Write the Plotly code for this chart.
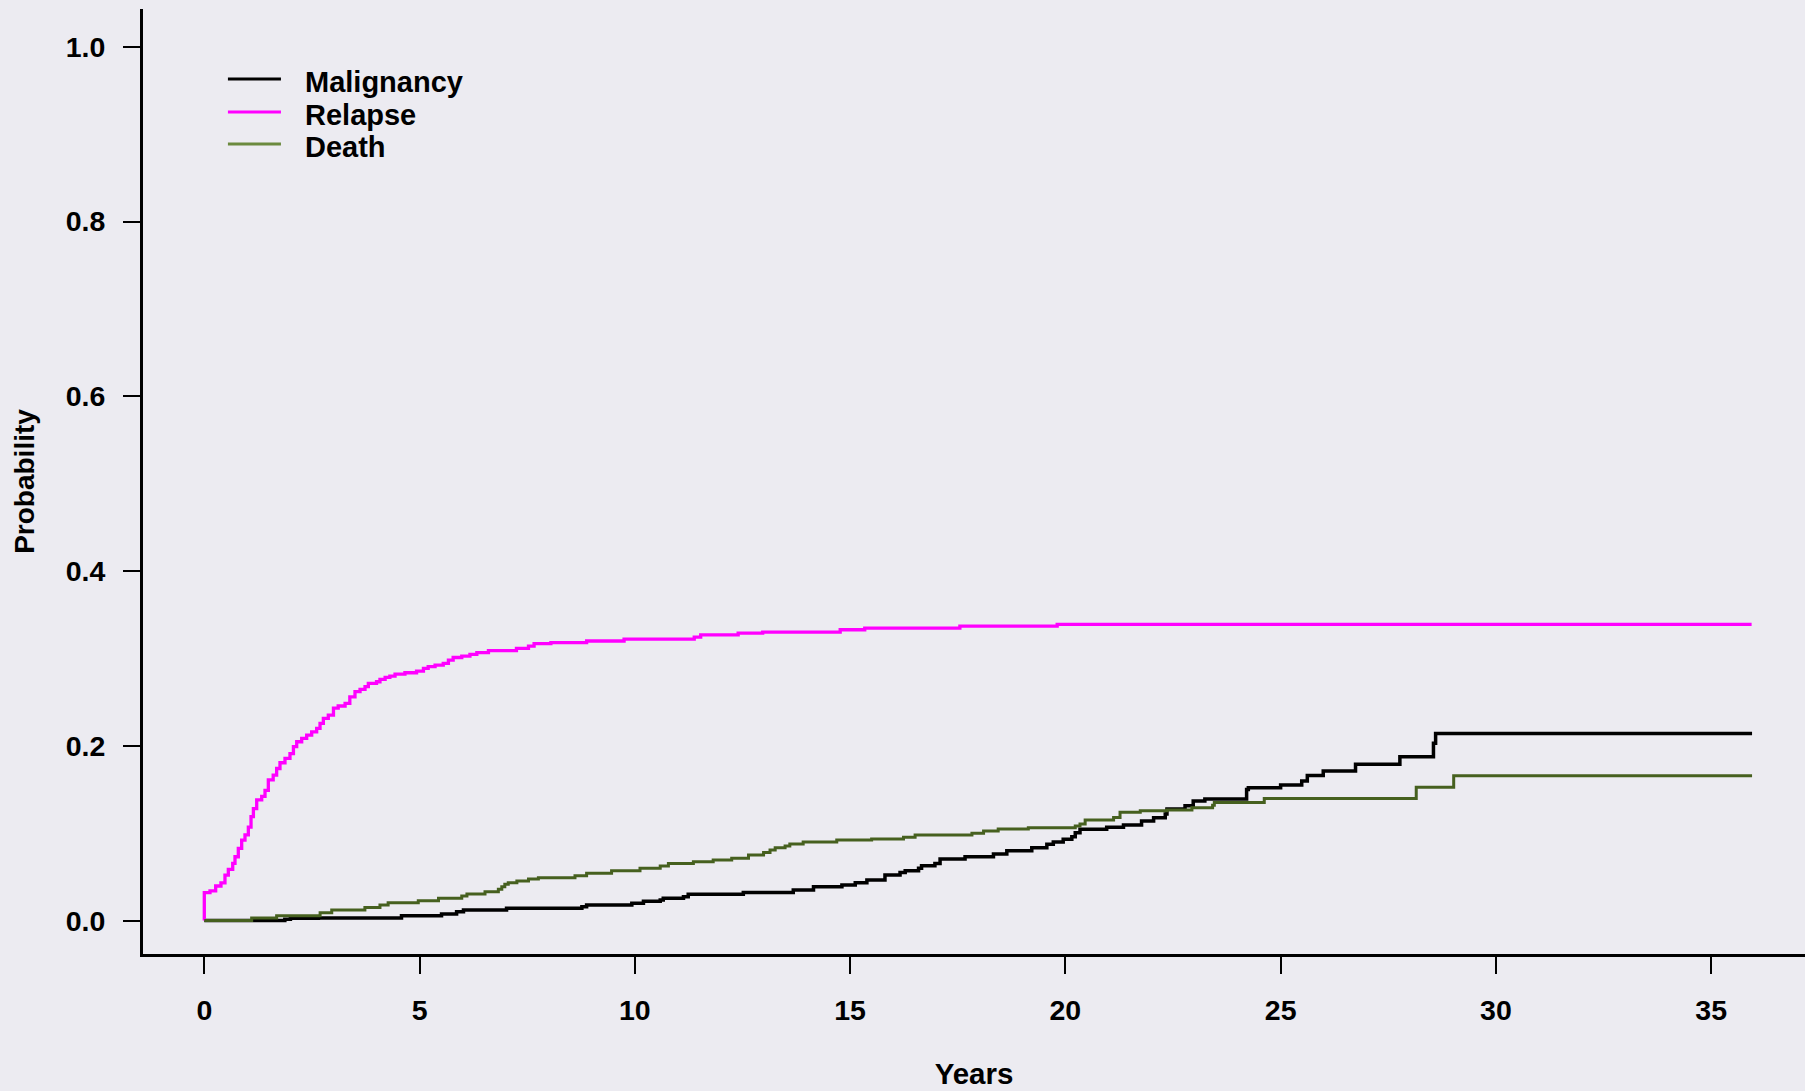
import plotly.graph_objects as go

# ---- data ----
relapse_t = [0, 0, 0.132, 0.264, 0.387, 0.48, 0.558, 0.66, 0.713, 0.79, 0.868, 0.945, 1.023, 1.085,
             1.14, 1.217, 1.333, 1.41, 1.487, 1.60, 1.68, 1.758, 1.874, 1.99, 2.07, 2.146, 2.262,
             2.378, 2.494, 2.61, 2.688, 2.765, 2.88, 3.0, 3.11, 3.27, 3.38, 3.50, 3.617, 3.733, 3.81,
             4.0, 4.08, 4.20, 4.31, 4.43, 4.66, 4.93, 5.09, 5.2, 5.36, 5.55, 5.67, 5.78, 5.98, 6.17,
             6.33, 6.6, 7.25, 7.53, 7.66, 8.05, 8.88, 9.75, 11.38, 11.53, 12.4, 12.97, 14.77, 15.34,
             17.55, 19.81, 35.94]
relapse_p = [0, 0.032, 0.034, 0.0395, 0.043, 0.052, 0.0586, 0.0654, 0.073, 0.0826, 0.092, 0.098,
             0.107, 0.119, 0.128, 0.138, 0.142, 0.149, 0.161, 0.1665, 0.174, 0.1806, 0.1856, 0.191,
             0.199, 0.2046, 0.2085, 0.2123, 0.216, 0.22, 0.2257, 0.2314, 0.235, 0.243, 0.2455,
             0.2486, 0.256, 0.262, 0.2646, 0.2676, 0.2715, 0.2733, 0.276, 0.2783, 0.2798, 0.282,
             0.2836, 0.2855, 0.2886, 0.2905, 0.2924, 0.2943, 0.298, 0.301, 0.3027, 0.3046, 0.3065,
             0.3088, 0.3115, 0.314, 0.3168, 0.318, 0.3199, 0.322, 0.3244, 0.327, 0.329, 0.330,
             0.3328, 0.3347, 0.337, 0.339, 0.339]

malig_t = [0, 1.87, 2.0, 2.65, 4.58, 5.51, 5.86, 6.02, 7.02, 8.77, 8.88, 9.93, 10.2, 10.59, 10.66,
           11.13, 11.24, 12.52, 13.68, 14.15, 14.81, 15.12, 15.39, 15.81, 16.16, 16.28, 16.59,
           16.66, 16.97, 17.09, 17.67, 18.33, 18.64, 19.22, 19.57, 19.72, 19.95, 20.15, 20.23,
           20.34, 20.96, 21.35, 21.77, 22.05, 22.32, 22.36, 22.78, 22.97, 23.24, 24.21, 24.25,
           25.0, 25.49, 25.62, 25.99, 26.74, 27.77, 28.55, 28.6, 35.95]
malig_p = [0, 0.0014, 0.0025, 0.003, 0.0055, 0.0074, 0.010, 0.012, 0.014, 0.0158, 0.0177, 0.0197,
           0.022, 0.0235, 0.0254, 0.0272, 0.030, 0.0322, 0.0349, 0.0387, 0.0406, 0.0433, 0.0463,
           0.052, 0.0551, 0.057, 0.0597, 0.0627, 0.0654, 0.0704, 0.073, 0.0761, 0.0799, 0.0833,
           0.0872, 0.090, 0.0929, 0.0959, 0.1005, 0.1044, 0.1067, 0.1093, 0.1139, 0.1177, 0.1219,
           0.1276, 0.1314, 0.1368, 0.139, 0.150, 0.152, 0.155, 0.1596, 0.166, 0.171, 0.179,
           0.1875, 0.2028, 0.214, 0.214]

death_t = [0, 1.10, 1.68, 2.69, 2.96, 3.73, 4.08, 4.27, 4.97, 5.44, 5.98, 6.1, 6.52, 6.83, 6.91,
           6.98, 7.06, 7.26, 7.53, 7.76, 8.61, 8.88, 9.46, 10.12, 10.59, 10.78, 11.36, 11.82,
           12.25, 12.64, 12.99, 13.14, 13.26, 13.49, 13.6, 13.91, 14.69, 15.5, 16.24, 16.51,
           17.83, 18.1, 18.44, 19.14, 20.23, 20.34, 20.46, 21.12, 21.27, 21.74, 22.36, 22.94,
           23.42, 23.46, 24.62, 28.15, 29.02, 35.95]
death_p = [0, 0.003, 0.0055, 0.009, 0.012, 0.015, 0.0177, 0.0204, 0.0227, 0.0254, 0.028, 0.0303,
           0.033, 0.0357, 0.0387, 0.0414, 0.0433, 0.0452, 0.0475, 0.049, 0.0513, 0.054, 0.057,
           0.0597, 0.0624, 0.0654, 0.0673, 0.0692, 0.0712, 0.075, 0.078, 0.0807, 0.0833, 0.0853,
           0.0875, 0.090, 0.0921, 0.0933, 0.0952, 0.0978, 0.0998, 0.1024, 0.1047, 0.1062, 0.1081,
           0.1104, 0.115, 0.118, 0.1238, 0.1257, 0.1265, 0.129, 0.132, 0.135, 0.1398, 0.1524,
           0.1657, 0.1657]

series_names = ["Malignancy", "Relapse", "Death"]
series_colors = ["black", "#FF00FF", "#46601F"]
legend_key_colors = ["black", "#FF00FF", "#6B8A3E"]

x_ticks = [0, 5, 10, 15, 20, 25, 30, 35]
y_ticks = [0.0, 0.2, 0.4, 0.6, 0.8, 1.0]
y_tick_labels = ["0.0", "0.2", "0.4", "0.6", "0.8", "1.0"]

BG = "#ECEBF1"
FONT = "Liberation Sans, Arial, sans-serif"

fig = go.Figure()
series = [(malig_t, malig_p, 3.5), (relapse_t, relapse_p, 3.3), (death_t, death_p, 3)]
for (t, p, w), name, col in zip(series, series_names, series_colors):
    fig.add_trace(go.Scatter(x=t, y=p, mode="lines", name=name, showlegend=False,
                             line=dict(color=col, width=w, shape="hv")))

# legend drawn as key lines + labels (paper coordinates)
legend_rows_y = [0.9259, 0.8910, 0.8571]
for name, col, yy in zip(series_names, legend_key_colors, legend_rows_y):
    fig.add_shape(type="line", xref="paper", yref="paper", x0=0.0511, x1=0.0830, y0=yy, y1=yy,
                  line=dict(color=col, width=3))
    fig.add_annotation(xref="paper", yref="paper", x=0.0962, y=yy, yshift=-2.5, text=name,
                       showarrow=False, xanchor="left", yanchor="middle",
                       font=dict(family=FONT, size=29, color="black", weight="bold"))

axis_common = dict(showline=True, linewidth=3, linecolor="black", ticks="outside",
                   ticklen=17, tickwidth=2, tickcolor="black", showgrid=False, zeroline=False,
                   tickfont=dict(family=FONT, size=28.5, color="black", weight="bold"))

fig.update_layout(
    width=1805, height=1091,
    margin=dict(l=143, r=0, t=9, b=137),
    paper_bgcolor=BG, plot_bgcolor=BG,
    font=dict(family=FONT, color="black"),
    xaxis=dict(range=[-1.424, 37.18], tickvals=x_ticks, ticklabelstandoff=12,
               title=dict(text="Years", font=dict(family=FONT, size=29.5, weight="bold"), standoff=39),
               **axis_common),
    yaxis=dict(range=[-0.0383, 1.0432], tickvals=y_ticks, ticktext=y_tick_labels,
               ticklabelstandoff=12,
               title=dict(text="Probability", font=dict(family=FONT, size=28, weight="bold"), standoff=23),
               **axis_common),
    showlegend=False,
)

fig.write_html("out.html")
